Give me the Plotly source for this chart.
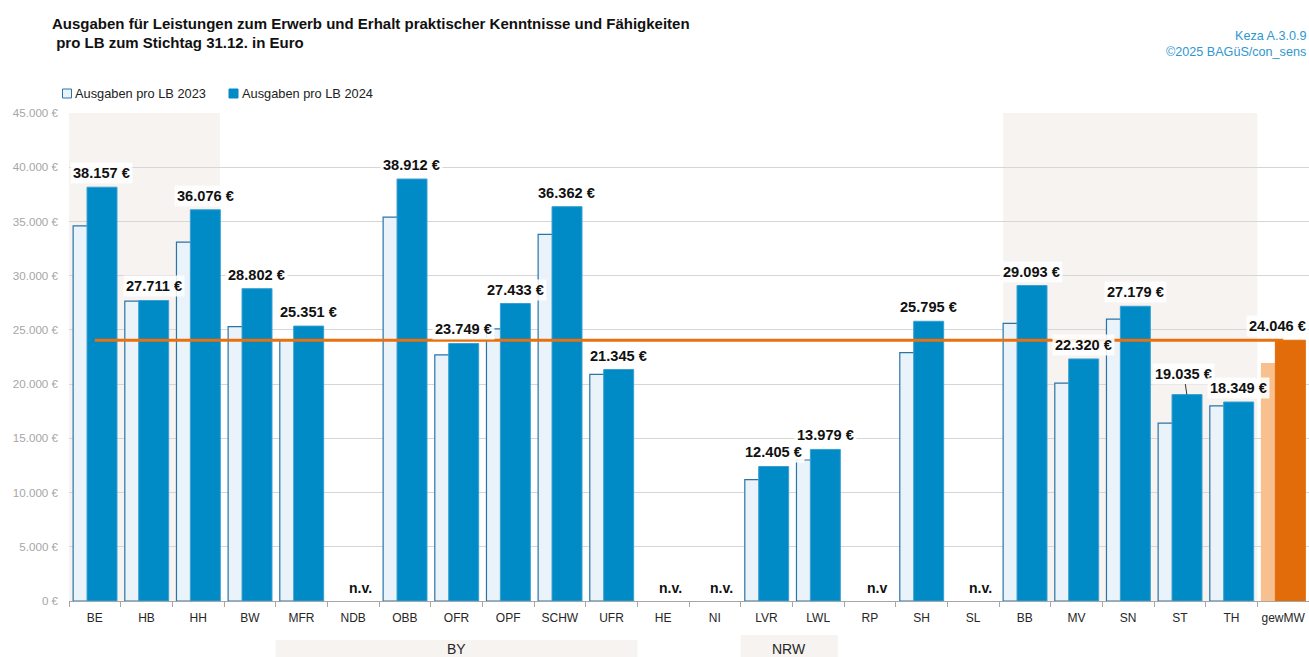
import plotly.graph_objects as go

# ---------------- data ----------------
categories = ["BE", "HB", "HH", "BW", "MFR", "NDB", "OBB", "OFR", "OPF", "SCHW", "UFR",
              "HE", "NI", "LVR", "LWL", "RP", "SH", "SL", "BB", "MV", "SN", "ST", "TH", "gewMW"]
values_2023 = [34600, 27650, 33100, 25300, 24100, None, 35400, 22700, 25100, 33800, 20900,
               None, None, 11200, 13000, None, 22900, None, 25600, 20100, 26000, 16400, 18000, 21900]
values_2024 = [38157, 27711, 36076, 28802, 25351, None, 38912, 23749, 27433, 36362, 21345,
               None, None, 12405, 13979, None, 25795, None, 29093, 22320, 27179, 19035, 18349, 24046]
missing_labels = {"NDB": "n.v.", "HE": "n.v.", "NI": "n.v.", "RP": "n.v", "SL": "n.v."}
mean_value = 24046
y_ticks = [0, 5000, 10000, 15000, 20000, 25000, 30000, 35000, 40000, 45000]
series_names = ["Ausgaben pro LB 2023", "Ausgaben pro LB 2024"]
groups = [("BY", "MFR", "UFR"), ("NRW", "LVR", "LWL")]

# ---------------- styles ----------------
FONT = "Liberation Sans, Arial, sans-serif"
C23_FILL, C23_LINE = "#eaf3fa", "#2a74a8"
C24_FILL, C24_LINE = "#008bc6", "#3a9fd2"
OR_LIGHT, OR_DARK = "#f8c08e", "#e36c0a"
SHADE = "#f6f3f0"

FIG_W, FIG_H = 1309, 657
PLOT_L, PLOT_W, PLOT_T, PLOT_H = 69, 1240, 113, 488   # pixels


def fmt(v):
    return f"{v:,}".replace(",", ".") + " €"


def px_x(p):
    return (p - PLOT_L) / PLOT_W


def px_y(p):
    return 1 + (PLOT_T - p) / PLOT_H


n = len(categories)
fill23 = [OR_LIGHT if c == "gewMW" else C23_FILL for c in categories]
line23 = [OR_LIGHT if c == "gewMW" else C23_LINE for c in categories]
fill24 = [OR_DARK if c == "gewMW" else C24_FILL for c in categories]
line24 = [OR_DARK if c == "gewMW" else C24_LINE for c in categories]

fig = go.Figure()
fig.add_trace(go.Bar(x=categories, y=values_2023, name=series_names[0],
                     offset=-0.42, width=0.52,
                     marker=dict(color=fill23, line=dict(color=line23, width=1.2)),
                     showlegend=False))
fig.add_trace(go.Bar(x=categories, y=values_2024, name=series_names[1],
                     offset=-0.151, width=0.58,
                     marker=dict(color=fill24, line=dict(color=line24, width=1)),
                     showlegend=False))
fig.add_trace(go.Scatter(x=categories, y=[mean_value] * n, mode="lines",
                         line=dict(color="#e8700f", width=3), showlegend=False,
                         hoverinfo="skip"))

shapes = []
annotations = []
# background shading
shapes.append(dict(type="rect", xref="x", yref="paper", x0=-0.52, x1=2.42, y0=0, y1=1,
                   fillcolor=SHADE, line=dict(width=0), layer="below"))
shapes.append(dict(type="rect", xref="x", yref="paper", x0=17.58, x1=22.5, y0=0, y1=1,
                   fillcolor=SHADE, line=dict(width=0), layer="below"))

# group boxes under the axis
for name, c0, c1 in groups:
    i0, i1 = categories.index(c0), categories.index(c1)
    top = px_y(640) if name == "BY" else px_y(635)
    right = i1 + 0.5 if name == "BY" else i1 + 0.38
    shapes.append(dict(type="rect", xref="x", yref="paper", x0=i0 - 0.5, x1=right,
                       y0=top, y1=px_y(660), fillcolor=SHADE, line=dict(width=0)))
    annotations.append(dict(x=(i0 - 0.5 + right) / 2, y=px_y(649), xref="x", yref="paper", text=name,
                            showarrow=False, yanchor="middle",
                            font=dict(family=FONT, size=14, color="#262626")))

# value labels
for c, v in zip(categories, values_2024):
    if v is None:
        annotations.append(dict(x=c, y=0, xref="x", yref="y", text=f"<b>{missing_labels[c]}</b>",
                                showarrow=False, yanchor="bottom", xshift=7, yshift=3,
                                font=dict(family=FONT, size=14, color="#111111")))
        continue
    a = dict(x=c, y=v, xref="x", yref="y", text=f"<b>{fmt(v)}</b>",
             font=dict(family=FONT, size=14.6, color="#111111"),
             bgcolor="rgba(255,255,255,0.88)", borderpad=2)
    if c == "ST":
        a.update(showarrow=True, arrowhead=0, arrowwidth=1, arrowcolor="#333333",
                 ax=-3, ay=-21, xshift=7)
    elif c == "gewMW":
        a.update(showarrow=False, yanchor="bottom", xshift=-6, yshift=3)
    else:
        a.update(showarrow=False, yanchor="bottom", xshift=7, yshift=3)
    annotations.append(a)

# custom legend
shapes.append(dict(type="rect", xref="paper", yref="paper", x0=px_x(62.5), x1=px_x(71.5),
                   y0=px_y(98), y1=px_y(89), fillcolor=C23_FILL, line=dict(color=C23_LINE, width=1)))
shapes.append(dict(type="rect", xref="paper", yref="paper", x0=px_x(229), x1=px_x(238),
                   y0=px_y(98), y1=px_y(89), fillcolor=C24_FILL, line=dict(color=C24_FILL, width=1)))
annotations.append(dict(x=px_x(73), y=px_y(93.5), xref="paper", yref="paper", text=series_names[0],
                        showarrow=False, xanchor="left", yanchor="middle",
                        font=dict(family=FONT, size=12.8, color="#222222")))
annotations.append(dict(x=px_x(240), y=px_y(93.5), xref="paper", yref="paper", text=series_names[1],
                        showarrow=False, xanchor="left", yanchor="middle",
                        font=dict(family=FONT, size=12.8, color="#222222")))

# source text top right
annotations.append(dict(x=1, y=px_y(36), xref="paper", yref="paper", text="Keza A.3.0.9",
                        showarrow=False, xanchor="right", yanchor="middle", xshift=-1,
                        font=dict(family=FONT, size=12.6, color="#2f97d0")))
annotations.append(dict(x=1, y=px_y(52), xref="paper", yref="paper", text="©2025 BAGüS/con_sens",
                        showarrow=False, xanchor="right", yanchor="middle", xshift=-1,
                        font=dict(family=FONT, size=12.6, color="#2f97d0")))

fig.update_layout(
    width=FIG_W, height=FIG_H, autosize=False,
    margin=dict(l=PLOT_L, r=FIG_W - PLOT_L - PLOT_W, t=PLOT_T, b=FIG_H - PLOT_T - PLOT_H, pad=0),
    paper_bgcolor="white", plot_bgcolor="white",
    barmode="overlay", separators=",.",
    title=dict(text="<b>Ausgaben für Leistungen zum Erwerb und Erhalt praktischer Kenntnisse und Fähigkeiten<br> pro LB zum Stichtag 31.12. in Euro</b>",
               x=52 / FIG_W, xanchor="left", y=1 - 28.5 / FIG_H, yanchor="middle",
               font=dict(family=FONT, size=15, color="#111111")),
    shapes=shapes, annotations=annotations,
    xaxis=dict(type="category", range=[-0.5, n - 0.5], tickson="boundaries", ticks="outside",
               ticklen=5, tickcolor="#a6a6a6", showline=True, linecolor="#a6a6a6", linewidth=1,
               showgrid=False, tickangle=0, automargin=False, ticklabelstandoff=6,
               tickfont=dict(family=FONT, size=12, color="#262626")),
    yaxis=dict(range=[0, 45000], tickvals=y_ticks, ticktext=[fmt(v) for v in y_ticks],
               showgrid=True, gridcolor="#d6d6d6", gridwidth=1, zeroline=False, showline=False,
               automargin=False, ticks="", ticklabelstandoff=10,
               tickfont=dict(family=FONT, size=11.6, color="#a6a6a6")),
)

fig.write_html("out.html", config={"displayModeBar": False},
               post_script="document.body.style.margin='0';document.body.style.overflow='hidden';")
